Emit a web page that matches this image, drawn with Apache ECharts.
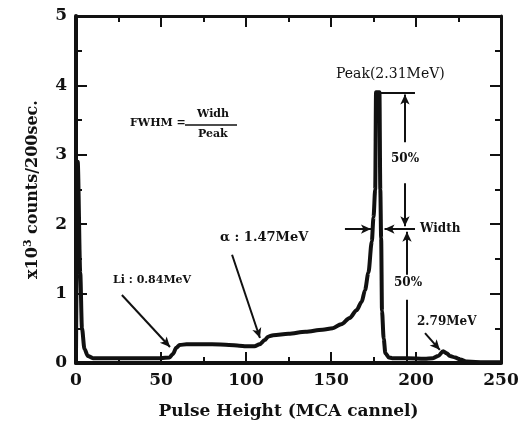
<!DOCTYPE html>
<html>
<head>
<meta charset="utf-8">
<script src="https://cdn.jsdelivr.net/npm/echarts@6/dist/echarts.min.js"></script>
<style>html,body{margin:0;padding:0;background:#fff;}#c{width:524px;height:425px;}</style>
</head>
<body>
<div id="c"></div>
<script>
// Spectrum (x: MCA channel, y: x10^3 counts / 200 sec)
const pulseHeight = [0, 1, 2.5, 3.5, 5, 7, 10, 20, 30, 40, 50, 55, 57, 59, 61, 65, 70, 80, 90, 96, 100, 105, 108, 111, 113, 116, 125, 135, 145, 151, 156, 161, 165, 168, 170, 172, 174, 175, 176, 176.5, 178.5, 179, 179.5, 180, 181, 182, 184, 186, 195, 205, 210, 213, 216, 218, 220, 223, 226, 230, 240, 250];
const counts =      [0.1, 2.9, 1.3, 0.5, 0.2, 0.1, 0.07, 0.07, 0.07, 0.07, 0.07, 0.08, 0.13, 0.22, 0.26, 0.27, 0.27, 0.27, 0.26, 0.25, 0.24, 0.24, 0.27, 0.33, 0.38, 0.4, 0.42, 0.45, 0.48, 0.5, 0.56, 0.65, 0.76, 0.88, 1.05, 1.3, 1.75, 2.1, 2.5, 3.9, 3.9, 2.5, 1.8, 0.75, 0.35, 0.14, 0.08, 0.07, 0.07, 0.06, 0.07, 0.1, 0.17, 0.14, 0.1, 0.08, 0.05, 0.02, 0.01, 0.01];

const xTicks = [0, 50, 100, 150, 200, 250];
const yTicks = [0, 1, 2, 3, 4, 5];

// Annotation segments [x1, y1, x2, y2, arrowAtEnd]
const annoSegments = [
  [27, 0.98, 55.3, 0.23, true],     // Li arrow
  [91.8, 1.56, 108.2, 0.36, true],  // alpha arrow
  [176.5, 3.9, 199.4, 3.9, false],  // peak top line
  [193.5, 3.18, 193.5, 3.87, true], // upper 50% up
  [193.5, 2.59, 193.5, 1.97, true], // upper 50% down
  [158.2, 1.93, 173.5, 1.93, true], // width left arrow
  [199.4, 1.93, 181.5, 1.93, true], // width right arrow
  [194.7, 1.27, 194.7, 1.89, true], // lower 50% up
  [194.7, 0.91, 194.7, 0.0, false], // lower 50% down
  [205.3, 0.43, 214, 0.19, true]    // 2.79MeV arrow
];

const font = 'DejaVu Serif';
const chart = echarts.init(document.getElementById('c'), null, {renderer: 'canvas'});

const lineData = pulseHeight.map((x, i) => [x, counts[i]]);
const markData = annoSegments.map(s => [
  {coord: [s[0], s[1]], symbol: 'none'},
  {coord: [s[2], s[3]], symbol: s[4] ? 'arrow' : 'none', symbolSize: [7, 10]}
]);

const axisCommon = {
  type: 'value', min: 0,
  axisLine: {show: true, onZero: false, lineStyle: {color: '#111', width: 4}},
  axisTick: {show: true, inside: true, length: 11, lineStyle: {color: '#111', width: 2}},
  minorTick: {show: true, splitNumber: 2, length: 6, lineStyle: {color: '#111', width: 2}},
  splitLine: {show: false},
  axisLabel: {color: '#111', fontFamily: font, fontWeight: 'bold', fontSize: 17}
};

chart.setOption({
  animation: false,
  backgroundColor: '#fff',
  grid: {left: 76, right: 23, top: 16, bottom: 62},
  xAxis: [
    Object.assign({}, axisCommon, {
      position: 'bottom', max: 250, interval: 50,
      axisLabel: Object.assign({}, axisCommon.axisLabel, {margin: 9, formatter: v => xTicks.includes(v) ? String(v) : ''}),
      name: 'Pulse Height (MCA cannel)', nameLocation: 'middle', nameGap: 40,
      nameTextStyle: {color: '#111', fontFamily: font, fontWeight: 'bold', fontSize: 17}
    }),
    Object.assign({}, axisCommon, {
      position: 'top', max: 250, interval: 50,
      axisLine: {show: true, onZero: false, lineStyle: {color: '#111', width: 3}},
      axisLabel: {show: false}
    })
  ],
  yAxis: [
    Object.assign({}, axisCommon, {
      position: 'left', max: 5, interval: 1,
      axisLabel: Object.assign({}, axisCommon.axisLabel, {margin: 9, formatter: v => yTicks.includes(v) ? String(v) : ''}),
      name: 'x10{sup|3} counts/200sec.', nameLocation: 'middle', nameGap: 33,
      nameTextStyle: {color: '#111', fontFamily: font, fontWeight: 'bold', fontSize: 16,
        rich: {sup: {fontFamily: font, fontWeight: 'bold', fontSize: 11, verticalAlign: 'top', padding: [0, 0, 9, 0]}}}
    }),
    Object.assign({}, axisCommon, {
      position: 'right', max: 5, interval: 1,
      axisLine: {show: true, onZero: false, lineStyle: {color: '#111', width: 3}},
      axisLabel: {show: false}
    })
  ],
  series: [{
    type: 'line',
    data: lineData,
    xAxisIndex: 0, yAxisIndex: 0,
    showSymbol: false, symbol: 'none',
    smooth: 0.3, smoothMonotone: 'x',
    lineStyle: {color: '#111', width: 4},
    silent: true,
    markLine: {
      silent: true, animation: false,
      lineStyle: {color: '#111', width: 2, type: 'solid'},
      label: {show: false},
      emphasis: {disabled: true},
      data: markData
    }
  }],
  graphic: [
    {type: 'text', left: 130, top: 118, style: {text: 'FWHM =', font: 'bold 11px "DejaVu Serif"', fill: '#111'}},
    {type: 'text', left: 197, top: 109, style: {text: 'Widh', font: 'bold 11px "DejaVu Serif"', fill: '#111'}},
    {type: 'line', shape: {x1: 185, y1: 125, x2: 237, y2: 125}, style: {stroke: '#111', lineWidth: 1.5}},
    {type: 'text', left: 198, top: 129, style: {text: 'Peak', font: 'bold 11px "DejaVu Serif"', fill: '#111'}},
    {type: 'text', left: 336, top: 67, style: {text: 'Peak(2.31MeV)', font: '14px "DejaVu Serif"', fill: '#111'}},
    {type: 'text', left: 391, top: 153, style: {text: '50%', font: 'bold 12px "DejaVu Serif"', fill: '#111'}},
    {type: 'text', left: 394, top: 277, style: {text: '50%', font: 'bold 12px "DejaVu Serif"', fill: '#111'}},
    {type: 'text', left: 420, top: 223, style: {text: 'Width', font: 'bold 12px "DejaVu Serif"', fill: '#111'}},
    {type: 'text', left: 417, top: 316, style: {text: '2.79MeV', font: 'bold 12px "DejaVu Serif"', fill: '#111'}},
    {type: 'text', left: 113, top: 275, style: {text: 'Li : 0.84MeV', font: 'bold 11px "DejaVu Serif"', fill: '#111'}},
    {type: 'text', left: 220, top: 231, style: {text: 'α : 1.47MeV', font: 'bold 13px "DejaVu Serif"', fill: '#111'}}
  ]
});
</script>
</body>
</html>
